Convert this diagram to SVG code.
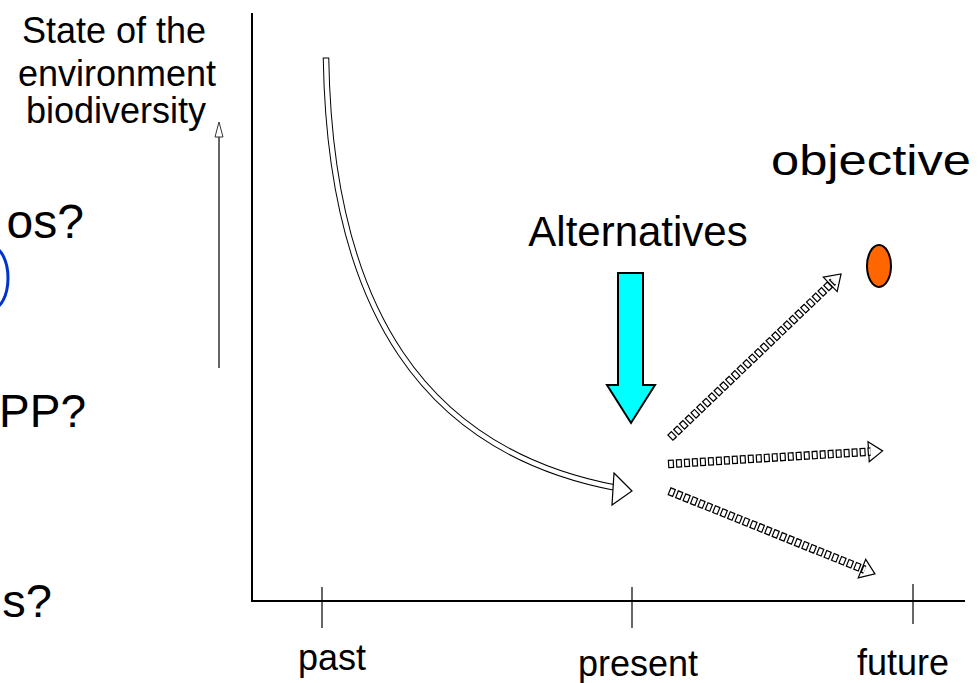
<svg xmlns="http://www.w3.org/2000/svg" width="978" height="683" viewBox="0 0 978 683">
<style>
  text { font-family: "Liberation Sans", Arial, sans-serif; fill: #000; }
  .lbl { font-size: 36px; }
  .big { font-size: 47px; }
  .axis { stroke: #000; stroke-width: 2; fill: none; }
  .tick { stroke: #000; stroke-width: 1.2; fill: none; }
  .bandO { stroke: #000; stroke-width: 8.5; fill: none; stroke-dasharray: 6 2; }
  .bandI { stroke: #fff; stroke-width: 6; fill: none; stroke-dasharray: 3.6 4.4; stroke-dashoffset: -1.2; }
  .head { fill: #fff; stroke: #000; stroke-width: 1.2; stroke-linejoin: miter; }
</style>
<rect width="978" height="683" fill="#fff"/>

<g id="left-questions">
  <text class="big" x="84" y="238" text-anchor="end" style="font-size:48px">os?</text>
  <ellipse cx="-8" cy="278" rx="16" ry="31" fill="none" stroke="#0033cc" stroke-width="3"/>
  <text class="big" x="86" y="427" text-anchor="end" style="font-size:46px">PP?</text>
  <text class="big" x="52" y="617" text-anchor="end">s?</text>
</g>

<g id="y-label">
  <text class="lbl" x="114" y="43" text-anchor="middle">State of the</text>
  <text class="lbl" x="117" y="86" text-anchor="middle">environment</text>
  <text class="lbl" x="116" y="123" text-anchor="middle">biodiversity</text>
  <line x1="219" y1="137" x2="219" y2="368" stroke="#333" stroke-width="1.5"/>
  <polygon points="219,122 223,137 215,137" fill="#fff" stroke="#333" stroke-width="1"/>
</g>

<g id="axes">
  <line class="axis" x1="252" y1="13" x2="252" y2="601"/>
  <line class="axis" x1="251" y1="601" x2="965" y2="601"/>
  <line class="tick" x1="322" y1="587" x2="322" y2="628"/>
  <line class="tick" x1="632" y1="587" x2="632" y2="628"/>
  <line class="tick" x1="913" y1="584" x2="913" y2="624"/>
  <text class="lbl" x="298" y="670">past</text>
  <text class="lbl" x="578" y="676">present</text>
  <text class="lbl" x="857" y="675">future</text>
</g>

<g id="connectors">
  <g id="past-trend">
    <path d="M326,58 C330,310 425,452 617,488" fill="none" stroke="#000" stroke-width="6.5"/>
    <path d="M326,58 C330,310 425,452 617,488" fill="none" stroke="#fff" stroke-width="4.5"/>
    <line x1="322.8" y1="58" x2="329.2" y2="58" stroke="#000" stroke-width="1"/>
    <line x1="617.5" y1="484.8" x2="616.5" y2="491.2" stroke="#000" stroke-width="1"/>
    <polygon class="head" points="614,473 632,491 612,505" fill="none"/>
  </g>
  <g id="alt-up" transform="translate(670,438) rotate(-43.8)">
    <polygon class="head" points="222,-10 237,0 222,10"/>
    <path class="bandO" d="M0,0 H226"/>
    <path class="bandI" d="M0,0 H226"/>
  </g>
  <g id="alt-flat" transform="translate(668,464) rotate(-3.5)">
    <polygon class="head" points="201,-10 215,0 201,10"/>
    <path class="bandO" d="M0,0 H203"/>
    <path class="bandI" d="M0,0 H203"/>
  </g>
  <g id="alt-down" transform="translate(669,491) rotate(21.9)">
    <polygon class="head" points="208,-10 222,0 208,10"/>
    <path class="bandO" d="M0,0 H211"/>
    <path class="bandI" d="M0,0 H211"/>
  </g>
</g>

<g id="alternatives">
  <text x="638" y="246" text-anchor="middle" style="font-size:42px">Alternatives</text>
  <polygon points="618,273 643,273 643,385 655,385 631,423 607,385 618,385" fill="#00ffff" stroke="#000" stroke-width="2"/>
</g>

<g id="objective">
  <text x="771" y="175" style="font-size:42px" textLength="200" lengthAdjust="spacingAndGlyphs">objective</text>
  <ellipse cx="879" cy="266" rx="12" ry="21" fill="#ff6600" stroke="#000" stroke-width="2"/>
</g>
</svg>
